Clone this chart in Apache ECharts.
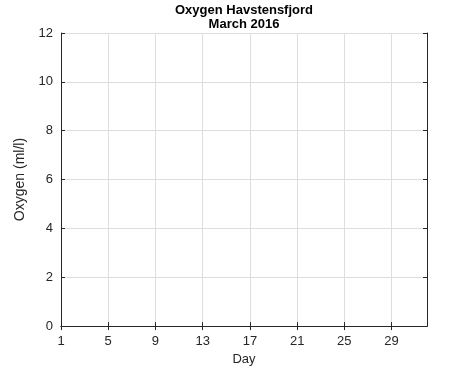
<!DOCTYPE html>
<html><head><meta charset="utf-8">
<script src="https://cdn.jsdelivr.net/npm/echarts@6/dist/echarts.min.js"></script>
<style>html,body{margin:0;padding:0;background:#fff}#c{width:471px;height:371px}</style>
</head><body><div id="c"></div>
<script>
// Data (the reference chart has no plotted measurements)
const days = [];
const oxygen = [];
const xTicks = [1, 5, 9, 13, 17, 21, 25, 29];
const yTicks = [0, 2, 4, 6, 8, 10, 12];

const txt = '#262626';
const font = 'Liberation Sans, Arial, sans-serif';
const chart = echarts.init(document.getElementById('c'), null, {renderer: 'canvas'});
const axisLine = {show: true, lineStyle: {color: txt, width: 1}};
const split = {show: true, lineStyle: {color: '#dedede', width: 1}};
chart.setOption({
  animation: false,
  title: {
    text: 'Oxygen Havstensfjord\nMarch 2016',
    left: 244, top: 3, padding: 0, textAlign: 'center',
    textStyle: {fontFamily: font, fontSize: 13, fontWeight: 'bold', color: '#000', lineHeight: 14}
  },
  grid: {left: 61, right: 44, top: 33, bottom: 42, containLabel: false},
  xAxis: [{
    type: 'value', min: 1, max: 32, position: 'bottom',
    name: 'Day', nameLocation: 'middle', nameGap: 26,
    nameTextStyle: {fontFamily: font, fontSize: 13, color: txt},
    axisLine: axisLine,
    axisTick: {show: true, inside: true, length: 4, customValues: xTicks, lineStyle: {color: txt}},
    axisLabel: {show: true, customValues: xTicks, margin: 9, fontFamily: font, fontSize: 13, color: txt},
    splitLine: split
  }, {
    type: 'value', min: 1, max: 32, position: 'top',
    axisLine: axisLine,
    axisTick: {show: true, inside: true, length: 4, customValues: xTicks, lineStyle: {color: txt}},
    axisLabel: {show: false}, splitLine: {show: false}
  }],
  yAxis: [{
    type: 'value', min: 0, max: 12, interval: 2, position: 'left',
    name: 'Oxygen (ml/l)', nameLocation: 'middle', nameGap: 29,
    nameTextStyle: {fontFamily: font, fontSize: 14, color: txt},
    axisLine: axisLine,
    axisTick: {show: true, inside: true, length: 4, lineStyle: {color: txt}},
    axisLabel: {show: true, customValues: yTicks, margin: 8, fontFamily: font, fontSize: 13, color: txt},
    splitLine: split
  }, {
    type: 'value', min: 0, max: 12, interval: 2, position: 'right',
    axisLine: axisLine,
    axisTick: {show: true, inside: true, length: 4, lineStyle: {color: txt}},
    axisLabel: {show: false}, splitLine: {show: false}
  }],
  series: [{
    type: 'line', xAxisIndex: 0, yAxisIndex: 0,
    data: days.map((d, i) => [d, oxygen[i]]),
    lineStyle: {color: '#0072bd'}, showSymbol: false
  }]
});
</script></body></html>
